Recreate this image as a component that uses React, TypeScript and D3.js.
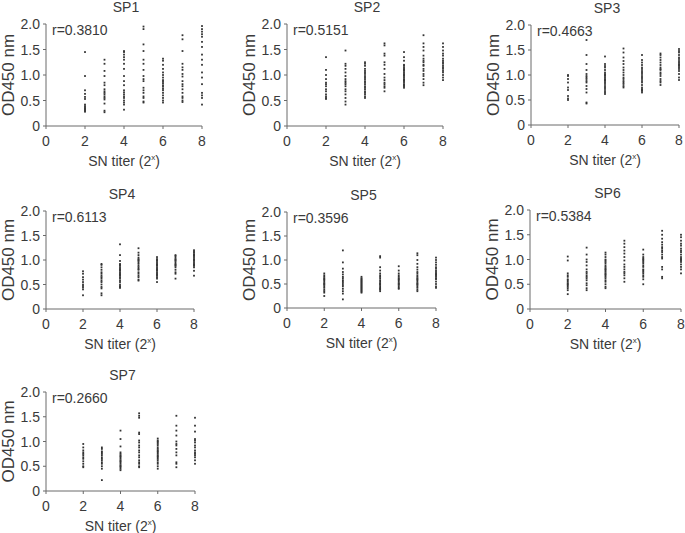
import React from "react";
import * as d3 from "d3";

// SN titer categories (log2)
const titers = [2, 3, 4, 5, 6, 7, 8];
const xTicks = [0, 2, 4, 6, 8];
const yTicks = [0, 0.5, 1.0, 1.5, 2.0];
const yTickLabels = ["0", "0.5", "1.0", "1.5", "2.0"];

const panelNames = ["SP1", "SP2", "SP3", "SP4", "SP5", "SP6", "SP7"];
const rValues = ["r=0.3810", "r=0.5151", "r=0.4663", "r=0.6113", "r=0.3596", "r=0.5384", "r=0.2660"];

// OD450 values per titer column (2..8)
const sp1: number[][] = [
  [1.45, 0.98, 0.70, 0.63, 0.57, 0.53, 0.42, 0.39, 0.36, 0.34, 0.32, 0.30, 0.28],
  [1.30, 1.22, 1.08, 0.98, 0.85, 0.80, 0.72, 0.68, 0.65, 0.62, 0.58, 0.55, 0.52, 0.44, 0.30, 0.27],
  [1.47, 1.45, 1.40, 1.35, 1.30, 1.22, 1.12, 0.98, 0.88, 0.80, 0.70, 0.66, 0.62, 0.58, 0.55, 0.50, 0.46, 0.42, 0.32],
  [1.95, 1.90, 1.60, 1.47, 1.30, 1.22, 1.10, 0.98, 0.92, 0.88, 0.75, 0.70, 0.65, 0.58, 0.55, 0.48, 0.46],
  [1.32, 1.28, 1.20, 1.12, 1.05, 1.00, 0.95, 0.90, 0.87, 0.84, 0.80, 0.77, 0.73, 0.70, 0.65, 0.60, 0.55, 0.50, 0.46],
  [1.78, 1.70, 1.47, 1.22, 1.15, 1.10, 1.02, 0.97, 0.88, 0.82, 0.78, 0.72, 0.65, 0.58, 0.55, 0.50, 0.47],
  [1.96, 1.90, 1.85, 1.80, 1.75, 1.65, 1.55, 1.40, 1.30, 1.20, 1.05, 0.95, 0.82, 0.65, 0.60, 0.55, 0.42],
];
const sp2: number[][] = [
  [1.35, 1.10, 1.00, 0.92, 0.85, 0.82, 0.78, 0.72, 0.68, 0.62, 0.58, 0.55, 0.53],
  [1.48, 1.22, 1.18, 1.12, 1.05, 0.98, 0.92, 0.88, 0.85, 0.82, 0.78, 0.72, 0.68, 0.62, 0.55, 0.48, 0.42],
  [1.25, 1.22, 1.18, 1.12, 1.08, 1.05, 1.02, 0.98, 0.95, 0.92, 0.88, 0.85, 0.82, 0.78, 0.75, 0.72, 0.68, 0.65, 0.62, 0.58, 0.55],
  [1.62, 1.58, 1.42, 1.38, 1.25, 1.20, 1.12, 1.02, 0.95, 0.90, 0.85, 0.82, 0.78, 0.75, 0.68],
  [1.45, 1.35, 1.28, 1.20, 1.18, 1.15, 1.12, 1.10, 1.08, 1.05, 1.02, 1.00, 0.98, 0.95, 0.92, 0.90, 0.88, 0.85, 0.82, 0.80, 0.78, 0.75],
  [1.78, 1.62, 1.55, 1.48, 1.38, 1.32, 1.28, 1.25, 1.20, 1.18, 1.12, 1.08, 1.02, 0.98, 0.92, 0.85, 0.80],
  [1.62, 1.55, 1.48, 1.42, 1.38, 1.32, 1.28, 1.25, 1.22, 1.18, 1.15, 1.12, 1.08, 1.05, 1.00, 0.95, 0.90],
];
const sp3: number[][] = [
  [1.00, 0.98, 0.92, 0.85, 0.75, 0.70, 0.58, 0.53, 0.50],
  [1.70, 1.40, 1.22, 1.10, 1.02, 0.98, 0.95, 0.92, 0.88, 0.85, 0.78, 0.72, 0.65, 0.45, 0.43],
  [1.37, 1.22, 1.18, 1.15, 1.10, 1.05, 1.02, 1.00, 0.98, 0.95, 0.92, 0.90, 0.88, 0.85, 0.82, 0.78, 0.75, 0.72, 0.68, 0.65, 0.62],
  [1.53, 1.45, 1.35, 1.28, 1.22, 1.15, 1.10, 1.05, 1.00, 0.95, 0.92, 0.88, 0.85, 0.82, 0.78, 0.75],
  [1.40, 1.30, 1.25, 1.20, 1.15, 1.12, 1.08, 1.05, 1.02, 0.98, 0.95, 0.92, 0.88, 0.85, 0.80, 0.75, 0.72, 0.70, 0.68, 0.65],
  [1.43, 1.40, 1.35, 1.30, 1.25, 1.20, 1.15, 1.12, 1.10, 1.05, 1.02, 0.98, 0.92, 0.88, 0.85, 0.80],
  [1.52, 1.48, 1.45, 1.40, 1.35, 1.32, 1.28, 1.25, 1.22, 1.20, 1.18, 1.15, 1.12, 1.08, 1.02, 0.95, 0.90],
];
const sp4: number[][] = [
  [0.77, 0.72, 0.65, 0.60, 0.55, 0.50, 0.47, 0.44, 0.40, 0.28],
  [0.92, 0.90, 0.85, 0.80, 0.75, 0.72, 0.68, 0.65, 0.62, 0.58, 0.55, 0.50, 0.45, 0.42, 0.32, 0.28],
  [1.32, 1.10, 0.98, 0.92, 0.90, 0.88, 0.85, 0.82, 0.80, 0.78, 0.75, 0.72, 0.70, 0.68, 0.65, 0.62, 0.58, 0.55, 0.50, 0.47, 0.45, 0.43],
  [1.24, 1.15, 1.10, 1.05, 1.02, 1.00, 0.98, 0.95, 0.92, 0.88, 0.85, 0.82, 0.80, 0.75, 0.72, 0.68, 0.65, 0.60, 0.58],
  [1.06, 1.02, 1.00, 0.98, 0.95, 0.92, 0.90, 0.88, 0.85, 0.82, 0.80, 0.78, 0.75, 0.72, 0.70, 0.68, 0.65, 0.62, 0.55],
  [1.10, 1.08, 1.05, 1.02, 1.00, 0.98, 0.95, 0.92, 0.90, 0.88, 0.85, 0.80, 0.75, 0.72, 0.62],
  [1.20, 1.17, 1.15, 1.12, 1.10, 1.08, 1.05, 1.02, 1.00, 0.98, 0.95, 0.92, 0.90, 0.88, 0.85, 0.78, 0.68],
];
const sp5: number[][] = [
  [0.72, 0.68, 0.65, 0.62, 0.60, 0.58, 0.55, 0.52, 0.50, 0.48, 0.45, 0.42, 0.38, 0.35, 0.32, 0.25],
  [1.20, 0.95, 0.82, 0.75, 0.70, 0.65, 0.62, 0.58, 0.55, 0.52, 0.48, 0.45, 0.40, 0.35, 0.30, 0.18],
  [0.65, 0.62, 0.60, 0.58, 0.56, 0.54, 0.52, 0.50, 0.48, 0.46, 0.44, 0.42, 0.40, 0.38, 0.36, 0.34, 0.32],
  [1.08, 1.05, 0.85, 0.78, 0.72, 0.68, 0.65, 0.62, 0.58, 0.55, 0.52, 0.50, 0.48, 0.45, 0.42, 0.40, 0.38, 0.35],
  [0.87, 0.78, 0.72, 0.68, 0.65, 0.62, 0.60, 0.58, 0.55, 0.52, 0.50, 0.48, 0.45, 0.42, 0.40],
  [1.14, 1.10, 1.00, 0.92, 0.85, 0.80, 0.75, 0.72, 0.68, 0.65, 0.62, 0.60, 0.58, 0.55, 0.52, 0.50, 0.48, 0.45, 0.42, 0.38, 0.35],
  [1.05, 1.00, 0.95, 0.90, 0.85, 0.82, 0.78, 0.75, 0.72, 0.70, 0.68, 0.65, 0.62, 0.60, 0.55, 0.50, 0.45, 0.42],
];
const sp6: number[][] = [
  [1.06, 0.98, 0.72, 0.68, 0.65, 0.60, 0.58, 0.55, 0.52, 0.50, 0.48, 0.45, 0.42, 0.38, 0.30],
  [1.24, 1.10, 1.00, 0.95, 0.88, 0.80, 0.75, 0.72, 0.68, 0.65, 0.62, 0.58, 0.52, 0.48, 0.42, 0.38],
  [1.14, 1.10, 1.05, 1.00, 0.98, 0.95, 0.92, 0.88, 0.85, 0.82, 0.80, 0.78, 0.75, 0.72, 0.70, 0.68, 0.65, 0.62, 0.58, 0.55, 0.50, 0.45, 0.42],
  [1.38, 1.32, 1.25, 1.18, 1.12, 1.05, 0.98, 0.90, 0.85, 0.80, 0.75, 0.72, 0.68, 0.62, 0.55],
  [1.20, 1.10, 1.05, 1.02, 1.00, 0.98, 0.95, 0.92, 0.88, 0.85, 0.80, 0.78, 0.75, 0.72, 0.68, 0.65, 0.60, 0.50],
  [1.58, 1.50, 1.42, 1.35, 1.30, 1.25, 1.22, 1.18, 1.15, 1.10, 1.05, 1.02, 0.85, 0.80, 0.65, 0.62],
  [1.50, 1.45, 1.38, 1.32, 1.28, 1.22, 1.18, 1.15, 1.10, 1.05, 1.02, 1.00, 0.98, 0.95, 0.90, 0.85, 0.80, 0.72],
];
const sp7: number[][] = [
  [0.95, 0.88, 0.82, 0.78, 0.75, 0.72, 0.68, 0.65, 0.60, 0.55, 0.50, 0.48],
  [0.88, 0.85, 0.80, 0.78, 0.75, 0.72, 0.68, 0.65, 0.62, 0.58, 0.55, 0.50, 0.45, 0.22],
  [1.22, 1.05, 0.90, 0.78, 0.75, 0.72, 0.70, 0.68, 0.65, 0.62, 0.60, 0.58, 0.55, 0.52, 0.50, 0.48, 0.45, 0.42],
  [1.57, 1.52, 1.48, 1.18, 1.15, 1.02, 0.98, 0.92, 0.88, 0.82, 0.78, 0.72, 0.68, 0.62, 0.58, 0.55, 0.50, 0.48],
  [1.06, 1.02, 1.00, 0.98, 0.95, 0.92, 0.88, 0.85, 0.82, 0.80, 0.78, 0.75, 0.72, 0.70, 0.68, 0.65, 0.62, 0.58, 0.55, 0.50, 0.45],
  [1.52, 1.32, 1.22, 1.12, 1.00, 0.95, 0.92, 0.85, 0.78, 0.72, 0.58, 0.55, 0.48],
  [1.48, 1.32, 1.20, 1.05, 1.02, 0.98, 0.92, 0.88, 0.82, 0.78, 0.75, 0.72, 0.68, 0.62, 0.55],
];
const panelData = [sp1, sp2, sp3, sp4, sp5, sp6, sp7];

// layout (pixel frame of each plot area): left, right, top, bottom
const layout = [
  { l: 46, r: 202, t: 24, b: 126 },
  { l: 287, r: 443, t: 24, b: 126 },
  { l: 531, r: 679, t: 25, b: 125 },
  { l: 46, r: 194, t: 211, b: 309 },
  { l: 287, r: 436, t: 212, b: 308 },
  { l: 530, r: 681, t: 210, b: 309 },
  { l: 46, r: 195, t: 392, b: 491 },
];

const FONT = "'Liberation Sans', Arial, sans-serif";
const AXIS = "#6a6a6a";
const TEXT = "#3a3a3a";
const DOT = "#333333";

function Panel({ idx }: { idx: number }) {
  const L = layout[idx];
  const x = d3.scaleLinear().domain([0, 8]).range([L.l, L.r]);
  const y = d3.scaleLinear().domain([0, 2]).range([L.b, L.t]);
  const data = panelData[idx];
  const cx = (L.l + L.r) / 2;
  return (
    <g>
      <text x={cx + 2} y={L.t - 12} textAnchor="middle" fontSize={14} fill={TEXT} fontFamily={FONT}>
        {panelNames[idx]}
      </text>
      {/* axes */}
      <line x1={L.l} x2={L.l} y1={y(0)} y2={y(2)} stroke={AXIS} strokeWidth={1} />
      <line x1={L.l} x2={L.r} y1={y(0)} y2={y(0)} stroke={AXIS} strokeWidth={1} />
      {yTicks.map((t, i) => (
        <g key={"y" + i}>
          <line x1={L.l - 3} x2={L.l} y1={y(t)} y2={y(t)} stroke={AXIS} />
          <text x={L.l - 6} y={y(t)} dy="0.36em" textAnchor="end" fontSize={14} fill={TEXT} fontFamily={FONT}>
            {yTickLabels[i]}
          </text>
        </g>
      ))}
      {xTicks.map((t, i) => (
        <g key={"x" + i}>
          <line x1={x(t)} x2={x(t)} y1={y(0)} y2={y(0) + 3} stroke={AXIS} />
          <text x={x(t)} y={y(0) + 19.5} textAnchor="middle" fontSize={14} fill={TEXT} fontFamily={FONT}>
            {t}
          </text>
        </g>
      ))}
      <text x={cx} y={y(0) + 39.5} textAnchor="middle" fontSize={14} fill={TEXT} fontFamily={FONT}>
        SN titer (2<tspan fontSize={8} dy={-6}>x</tspan><tspan dy={6}>)</tspan>
      </text>
      <text
        transform={`translate(${L.l - 32},${(L.t + L.b) / 2}) rotate(-90)`}
        textAnchor="middle"
        fontSize={17}
        fill={TEXT}
        fontFamily={FONT}
      >
        OD450 nm
      </text>
      <text x={L.l + 6} y={L.t + 10.5} fontSize={14} fill={TEXT} fontFamily={FONT}>
        {rValues[idx]}
      </text>
      {data.map((col, ci) =>
        col.map((v, vi) => (
          <rect key={ci + "-" + vi} x={x(titers[ci]) - 0.9} y={y(v) - 0.9} width={1.8} height={1.8} fill={DOT} />
        ))
      )}
    </g>
  );
}

export default function App() {
  return (
    <svg
      width={685}
      height={533}
      style={{ position: "absolute", left: 0, top: 0, background: "#fff" }}
    >
      <rect width={685} height={533} fill="#fff" />
      {panelNames.map((_, i) => (
        <Panel key={i} idx={i} />
      ))}
    </svg>
  );
}
